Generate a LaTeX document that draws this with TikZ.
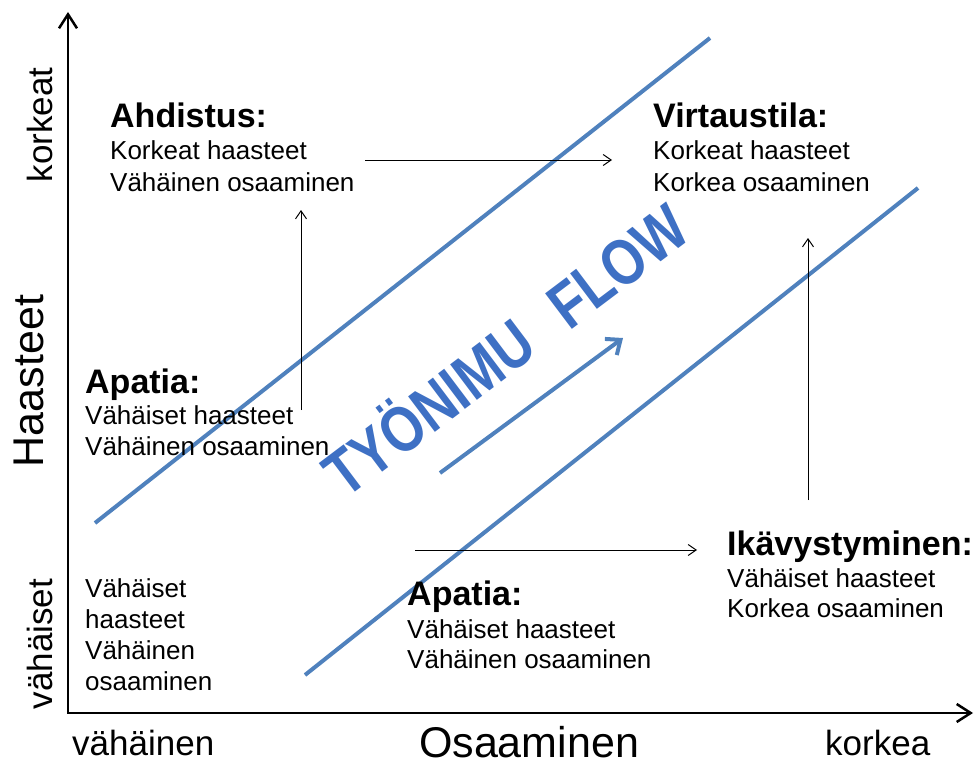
\documentclass[tikz,border=0pt]{standalone}
\usepackage{fontspec}
\usepackage{graphicx}
\setmainfont{Liberation Sans}
\usetikzlibrary{arrows.meta}
\definecolor{linblue}{RGB}{79,129,189}
\definecolor{wordblue}{RGB}{62,112,196}
\begin{document}
\begin{tikzpicture}[x=1pt,y=-1pt,
 title/.style={anchor=base west,inner sep=0pt,font=\bfseries\fontsize{34}{40}\selectfont},
 body/.style={anchor=base west,inner sep=0pt,font=\fontsize{26}{31}\selectfont},
 axislabel/.style={inner sep=0pt,font=\fontsize{35}{42}\selectfont},
 axistitle/.style={inner sep=0pt,font=\fontsize{43}{50}\selectfont},
 axisline/.style={line width=2.5pt,{Straight Barb[length=14pt,width=18pt]}-{Straight Barb[length=14pt,width=18pt]}},
 thinarrow/.style={line width=1pt,-{Straight Barb[length=8pt,width=11pt]}},
 band/.style={line width=4pt,linblue},
 flowarrow/.style={line width=4pt,linblue,-{Straight Barb[length=12pt,width=20pt]}},
 wordart/.style={inner sep=0pt,text=wordblue,font=\bfseries\fontsize{53}{60}\selectfont}]
\useasboundingbox (0,0) rectangle (974,765);

% axes
\coordinate (ytop) at (68,12);
\coordinate (origin) at (68,713);
\coordinate (xright) at (973,713);
\draw[axisline] (ytop) -- (origin) -- (xright);

% axis labels
\node[axislabel,rotate=90,anchor=base] (lkorkeat) at (52,125) {korkeat};
\node[axistitle,rotate=90,anchor=base] (lhaasteet) at (43,381) {Haasteet};
\node[axislabel,rotate=90,anchor=base] (lvahaiset) at (52,644) {vähäiset};
\node[axislabel,anchor=base west] (lvahainen) at (72,755) {vähäinen};
\node[axistitle,anchor=base] (losaaminen) at (529,757) {Osaaminen};
\node[axislabel,anchor=base west] (lkorkea) at (825,755) {korkea};

% blue band lines
\coordinate (b1s) at (95,523);
\coordinate (b1e) at (710,38);
\coordinate (b2s) at (305,675);
\coordinate (b2e) at (918,188);
\draw[band] (b1s) -- (b1e);
\draw[band] (b2s) -- (b2e);
\coordinate (fs) at (440,473);
\coordinate (fe) at (623,338);
\draw[flowarrow] (fs) -- (fe);

% word art
\node[wordart,rotate=37,anchor=base west] (flow) at (345,500) {\scalebox{1}[1.22]{TYÖNIMU\hspace{36pt}FLOW}};

% Ahdistus
\node[title] (ahd) at (110,128) {Ahdistus:};
\node[body] (ahd1) at (110,160) {Korkeat haasteet};
\node[body] (ahd2) at (110,191) {Vähäinen osaaminen};

% Virtaustila
\node[title] (vir) at (653,128) {Virtaustila:};
\node[body] (vir1) at (653,160) {Korkeat haasteet};
\node[body] (vir2) at (653,191) {Korkea osaaminen};

% Apatia left
\node[title] (apa) at (85,393) {Apatia:};
\node[body] (apa1) at (85,424) {Vähäiset haasteet};
\node[body] (apa2) at (85,455) {Vähäinen osaaminen};

% Bottom-left
\node[body] (bl1) at (85,597) {Vähäiset};
\node[body] (bl2) at (85,628) {haasteet};
\node[body] (bl3) at (85,659) {Vähäinen};
\node[body] (bl4) at (85,690) {osaaminen};

% Apatia bottom
\node[title] (apb) at (407,605) {Apatia:};
\node[body] (apb1) at (407,638) {Vähäiset haasteet};
\node[body] (apb2) at (407,668) {Vähäinen osaaminen};

% Ikävystyminen
\node[title] (ika) at (727,555) {Ikävystyminen:};
\node[body] (ika1) at (727,587) {Vähäiset haasteet};
\node[body] (ika2) at (727,617) {Korkea osaaminen};

% thin arrows
\coordinate (a1s) at (365,160);
\coordinate (a1e) at (612,160);
\coordinate (a2s) at (301,410);
\coordinate (a2e) at (301,210);
\coordinate (a3s) at (415,550);
\coordinate (a3e) at (697,550);
\coordinate (a4s) at (808,500);
\coordinate (a4e) at (808,238);
\draw[thinarrow] (a1s) -- (a1e);
\draw[thinarrow] (a2s) -- (a2e);
\draw[thinarrow] (a3s) -- (a3e);
\draw[thinarrow] (a4s) -- (a4e);
\end{tikzpicture}
\end{document}
